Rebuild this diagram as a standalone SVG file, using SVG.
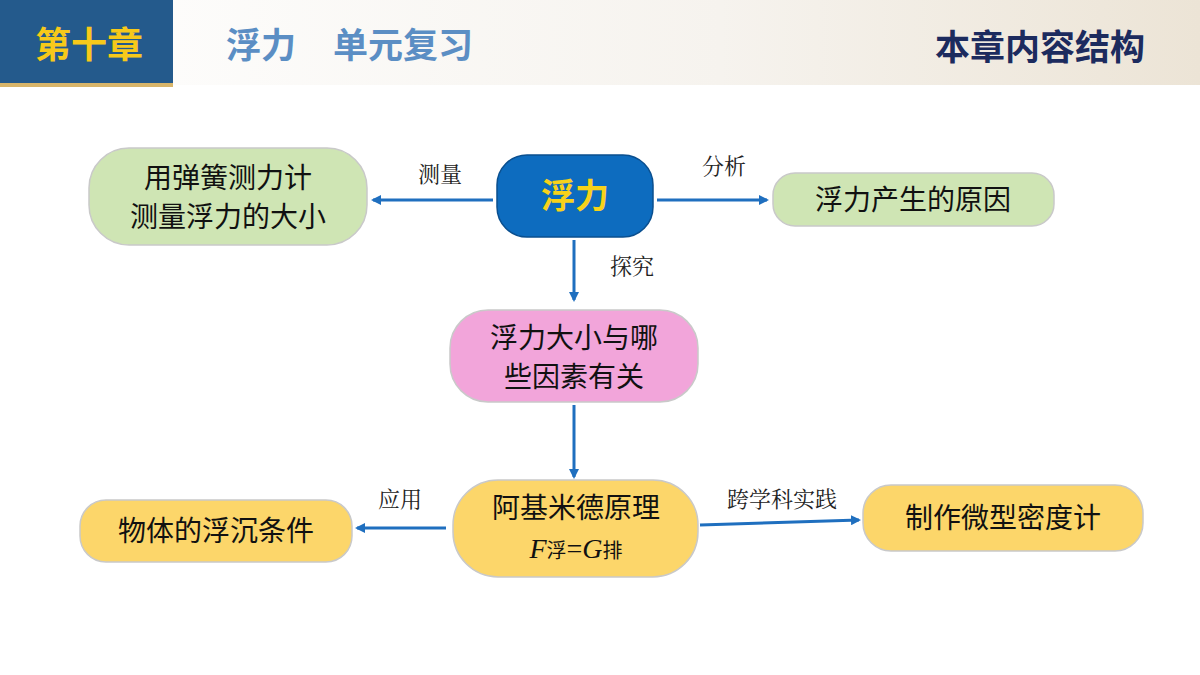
<svg xmlns="http://www.w3.org/2000/svg" width="1200" height="675" viewBox="0 0 1200 675">
<defs>
<linearGradient id="hdr" x1="0" x2="1"><stop offset="0" stop-color="#ffffff"/><stop offset="0.6" stop-color="#f6f3ee"/><stop offset="1" stop-color="#ece4d6"/></linearGradient>
<marker id="ar" markerWidth="10" markerHeight="10" refX="8" refY="5" orient="auto" markerUnits="userSpaceOnUse"><path d="M0,0 L10,5 L0,10 Z" fill="#1f6fbf"/></marker>
<style>
.n{stroke:#c9c9c9;stroke-width:1.5}
.t{font-family:"Noto Sans CJK SC",sans-serif;font-size:28px;fill:#111;text-anchor:middle}
.l{font-family:"Noto Serif CJK SC","Noto Sans CJK SC",serif;font-size:22px;fill:#222;text-anchor:middle}
.c line{stroke:#1f6fbf;stroke-width:3;marker-end:url(#ar)}
.h{font-family:"Noto Sans CJK SC",sans-serif;font-weight:bold}
</style>
</defs>
<rect width="1200" height="675" fill="#fff"/>
<rect x="0" y="0" width="1200" height="85" fill="url(#hdr)"/>
<rect x="0" y="0" width="173" height="83" fill="#245a8c"/>
<rect x="0" y="83" width="173" height="4" fill="#d8b56a"/>
<text class="h" x="89" y="58" font-size="36" fill="#f7c91a" text-anchor="middle">第十章</text>
<text class="h" x="226" y="58" font-size="35" fill="#5b8ec4">浮力</text>
<text class="h" x="333" y="58" font-size="35" fill="#5b8ec4">单元复习</text>
<text class="h" x="1145" y="60" font-size="35" fill="#1c2b5e" text-anchor="end">本章内容结构</text>
<g class="c">
<line x1="493" y1="200" x2="373" y2="200"/>
<line x1="657" y1="200" x2="767" y2="200"/>
<line x1="574" y1="240" x2="574" y2="300"/>
<line x1="574" y1="405" x2="574" y2="477"/>
<line x1="446" y1="528" x2="357" y2="528"/>
<line x1="700" y1="525" x2="859" y2="520"/>
</g>
<g class="l">
<text x="440" y="182">测量</text>
<text x="724" y="174">分析</text>
<text x="632" y="274">探究</text>
<text x="400" y="507">应用</text>
<text x="782" y="507">跨学科实践</text>
</g>
<g id="n1"><rect class="n" x="89" y="148" width="278" height="97" rx="40" fill="#cfe5b4"/><text class="t" x="228" y="188">用弹簧测力计</text><text class="t" x="228" y="227">测量浮力的大小</text></g>
<g id="n2"><rect x="497" y="155" width="156" height="82" rx="30" fill="#0d6cbf" stroke="#0a4f8f" stroke-width="1.5"/><text class="h" x="575" y="208" font-size="34" fill="#f7d21a" text-anchor="middle">浮力</text></g>
<g id="n3"><rect class="n" x="773" y="173" width="281" height="53" rx="22" fill="#cfe5b4"/><text class="t" x="913" y="210">浮力产生的原因</text></g>
<g id="n4"><rect class="n" x="450" y="310" width="248" height="92" rx="38" fill="#f2a5da"/><text class="t" x="574" y="348">浮力大小与哪</text><text class="t" x="574" y="387">些因素有关</text></g>
<g id="n5"><rect class="n" x="453" y="480" width="245" height="97" rx="45" fill="#fcd66a"/><text class="t" x="576" y="518">阿基米德原理</text><text x="576" y="558" text-anchor="middle" fill="#111"><tspan font-family="Liberation Serif,serif" font-style="italic" font-size="28">F</tspan><tspan font-family="Noto Sans CJK SC,sans-serif" font-size="20">浮</tspan><tspan font-family="Liberation Serif,serif" font-size="28">=</tspan><tspan font-family="Liberation Serif,serif" font-style="italic" font-size="28">G</tspan><tspan font-family="Noto Sans CJK SC,sans-serif" font-size="20">排</tspan></text></g>
<g id="n6"><rect class="n" x="80" y="500" width="272" height="62" rx="26" fill="#fcd66a"/><text class="t" x="216" y="541">物体的浮沉条件</text></g>
<g id="n7"><rect class="n" x="863" y="485" width="280" height="66" rx="28" fill="#fcd66a"/><text class="t" x="1003" y="528">制作微型密度计</text></g>
</svg>
